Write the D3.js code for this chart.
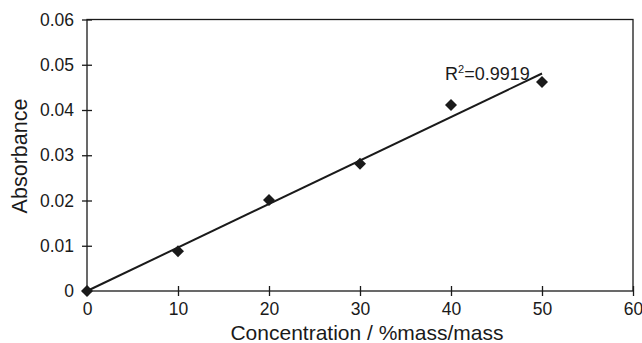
<!DOCTYPE html>
<html><head><meta charset="utf-8">
<script src="https://cdn.jsdelivr.net/npm/d3@7"></script>
<style>body{margin:0;background:#fff}svg{display:block;font-family:"Liberation Sans",Arial,sans-serif}</style>
</head><body><svg id="c" width="642" height="343"></svg>
<script>
const concentration = [0, 10, 20, 30, 40, 50];
const absorbance = [0, 0.0088, 0.0201, 0.0281, 0.0411, 0.0462];
const xTicks = [0, 10, 20, 30, 40, 50, 60];
const yTicks = [0, 0.01, 0.02, 0.03, 0.04, 0.05, 0.06];
const yTickLabels = ["0", "0.01", "0.02", "0.03", "0.04", "0.05", "0.06"];
const r2Label = "0.9919";

const svg = d3.select("#c");
const x = d3.scaleLinear().domain([0, 60]).range([87, 633]);
const y = d3.scaleLinear().domain([0, 0.06]).range([291, 19.5]);
const ink = "#1a1a1a";

// frame
svg.append("rect").attr("x", x(0)).attr("y", y(0.06)).attr("width", x(60)-x(0)).attr("height", y(0)-y(0.06))
  .attr("fill", "none").attr("stroke", ink).attr("stroke-width", 1.3);

const xa = svg.append("g").attr("transform", `translate(0,${y(0)})`)
  .call(d3.axisBottom(x).tickValues(xTicks).tickSize(0).tickPadding(0).tickFormat(d3.format("d")));
xa.select(".domain").remove();
xa.selectAll(".tick").append("line").attr("y1", -5).attr("y2", 5).attr("stroke", ink).attr("stroke-width", 1.3);
xa.selectAll("text").attr("y", 12).attr("font-size", 17.5).attr("fill", ink).attr("font-family", null);

const ya = svg.append("g").attr("transform", `translate(${x(0)},0)`)
  .call(d3.axisLeft(y).tickValues(yTicks).tickSize(0).tickPadding(0).tickFormat((d,i)=>yTickLabels[i]));
ya.select(".domain").remove();
ya.selectAll(".tick").append("line").attr("x1", -5).attr("x2", 5).attr("stroke", ink).attr("stroke-width", 1.3);
ya.selectAll("text").attr("x", -13).attr("font-size", 17.5).attr("fill", ink).attr("font-family", null);

// trendline: least squares through origin
const slope = d3.sum(concentration, (c,i)=>c*absorbance[i]) / d3.sum(concentration, c=>c*c);
const xEnd = d3.max(concentration);
svg.append("line").attr("x1", x(0)).attr("y1", y(0)).attr("x2", x(xEnd)).attr("y2", y(slope*xEnd))
  .attr("stroke", ink).attr("stroke-width", 2);

// markers
const diamond = d3.symbol().type(d3.symbolSquare).size(72)();
svg.append("g").selectAll("path").data(concentration).join("path")
  .attr("d", diamond)
  .attr("transform", (c,i)=>`translate(${x(c)},${y(absorbance[i])}) rotate(45)`)
  .attr("fill", ink);

// R^2 label
const rt = svg.append("text").attr("x", 445).attr("y", 80).attr("font-size", 18).attr("fill", ink);
rt.append("tspan").text("R");
rt.append("tspan").attr("font-size", 11).attr("dy", -7).text("2");
rt.append("tspan").attr("dy", 7).text("=" + r2Label);

// axis titles
svg.append("text").attr("x", 367).attr("y", 340).attr("text-anchor", "middle")
  .attr("font-size", 21).attr("fill", ink).text("Concentration / %mass/mass");
svg.append("text").attr("transform", `translate(27,156) rotate(-90)`).attr("text-anchor", "middle")
  .attr("font-size", 21.5).attr("fill", ink).text("Absorbance");
</script></body></html>
